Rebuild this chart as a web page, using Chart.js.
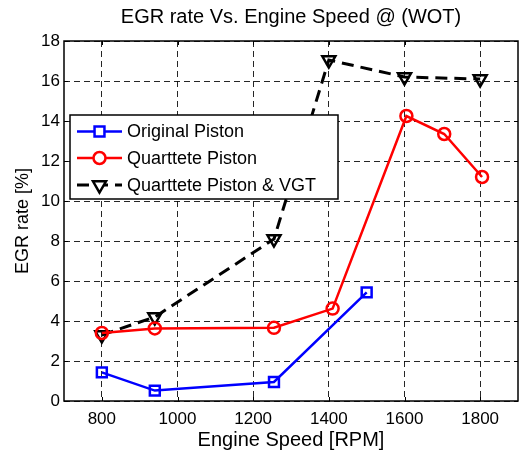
<!DOCTYPE html>
<html>
<head>
<meta charset="utf-8">
<script src="https://cdn.jsdelivr.net/npm/chart.js@4/dist/chart.umd.min.js"></script>
<style>
  html, body { margin: 0; padding: 0; background: #fff; }
  #wrap { width: 528px; height: 452px; }
</style>
</head>
<body>
<div id="wrap"><canvas id="egrChart" width="528" height="452"></canvas></div>
<script>
// データ
const originalRpm = [800, 940, 1255, 1500];
const originalEgr = [1.43, 0.52, 0.95, 5.43];

const quarttetteRpm = [800, 940, 1255, 1410, 1605, 1705, 1805];
const quarttetteEgr = [3.4, 3.63, 3.66, 4.62, 14.25, 13.35, 11.2];

const vgtRpm = [800, 940, 1255, 1400, 1600, 1800];
const vgtEgr = [3.3, 4.2, 8.1, 17.05, 16.2, 16.1];

const xTicks = [800, 1000, 1200, 1400, 1600, 1800];
const yTicks = [0, 2, 4, 6, 8, 10, 12, 14, 16, 18];

const seriesNames = ['Original Piston', 'Quarttete Piston', 'Quarttete Piston & VGT'];

const toPoints = (xs, ys) => xs.map((x, i) => ({ x: x, y: ys[i] }));

const FONT = 'Liberation Sans, Arial, Helvetica, sans-serif';

// MATLAB風の枠・内向き目盛・凡例を描くプラグイン
const matlabFramePlugin = {
    id: 'matlabFrame',
    afterDraw: (chart) => {
        const { ctx, chartArea: { top, bottom, left, right } } = chart;
        const xs = chart.scales.x;
        const ys = chart.scales.y;
        ctx.save();
        ctx.strokeStyle = '#000';
        ctx.lineWidth = 1.5;
        ctx.setLineDash([]);
        ctx.strokeRect(left, top, right - left, bottom - top);

        // 内向きの目盛
        ctx.lineWidth = 1;
        ctx.beginPath();
        xTicks.forEach(v => {
            const px = Math.round(xs.getPixelForValue(v)) + 0.5;
            ctx.moveTo(px, bottom); ctx.lineTo(px, bottom - 4);
            ctx.moveTo(px, top); ctx.lineTo(px, top + 4);
        });
        yTicks.forEach(v => {
            const py = Math.round(ys.getPixelForValue(v)) + 0.5;
            ctx.moveTo(left, py); ctx.lineTo(left + 4, py);
            ctx.moveTo(right, py); ctx.lineTo(right - 4, py);
        });
        ctx.stroke();

        // 凡例
        const box = { x: 70, y: 115, w: 268, h: 84 };
        ctx.fillStyle = '#fff';
        ctx.fillRect(box.x, box.y, box.w, box.h);
        ctx.lineWidth = 1.5;
        ctx.strokeRect(box.x, box.y, box.w, box.h);

        const rows = [131.5, 158, 185];
        chart.data.datasets.forEach((ds, i) => {
            const y = rows[i];
            ctx.save();
            ctx.strokeStyle = ds.borderColor;
            ctx.lineWidth = ds.borderWidth;
            ctx.setLineDash(ds.borderDash || []);
            ctx.beginPath();
            ctx.moveTo(77, y);
            ctx.lineTo(122, y);
            ctx.stroke();
            ctx.setLineDash([]);
            ctx.fillStyle = '#fff';
            ctx.strokeStyle = ds.pointBorderColor;
            ctx.lineWidth = ds.pointBorderWidth;
            Chart.helpers.drawPoint(ctx, {
                pointStyle: ds.pointStyle,
                rotation: ds.pointRotation || 0,
                radius: ds.pointRadius,
                borderWidth: ds.pointBorderWidth
            }, 99.5, y);
            ctx.restore();

            ctx.fillStyle = '#000';
            ctx.font = '18px ' + FONT;
            ctx.textBaseline = 'middle';
            ctx.textAlign = 'left';
            ctx.fillText(ds.label, 127, y + 1);
        });
        ctx.restore();
    }
};

const ctx = document.getElementById('egrChart').getContext('2d');

new Chart(ctx, {
    type: 'scatter',
    data: {
        datasets: [{
            label: seriesNames[0],
            data: toPoints(originalRpm, originalEgr),
            showLine: true,
            borderColor: '#0000ff',
            borderWidth: 2.5,
            pointStyle: 'rect',
            pointRadius: 7,
            pointBorderWidth: 2.5,
            pointBorderColor: '#0000ff',
            pointBackgroundColor: 'rgba(255,255,255,0)'
        }, {
            label: seriesNames[1],
            data: toPoints(quarttetteRpm, quarttetteEgr),
            showLine: true,
            borderColor: '#ff0000',
            borderWidth: 2.5,
            pointStyle: 'circle',
            pointRadius: 6,
            pointBorderWidth: 2.5,
            pointBorderColor: '#ff0000',
            pointBackgroundColor: 'rgba(255,255,255,0)'
        }, {
            label: seriesNames[2],
            data: toPoints(vgtRpm, vgtEgr),
            showLine: true,
            borderColor: '#000000',
            borderWidth: 3,
            borderDash: [12, 7],
            pointStyle: 'triangle',
            pointRotation: 180,
            pointRadius: 7.5,
            pointBorderWidth: 2.5,
            pointBorderColor: '#000000',
            pointBackgroundColor: 'rgba(255,255,255,0)'
        }]
    },
    options: {
        responsive: false,
        animation: false,
        layout: { padding: { left: 0, right: 7, top: 0, bottom: 0 } },
        plugins: {
            legend: { display: false },
            tooltip: { enabled: false },
            title: {
                display: true,
                fullSize: false,
                text: 'EGR rate Vs. Engine Speed @ (WOT)',
                color: '#000',
                font: { family: FONT, size: 20, weight: 'normal' },
                padding: { top: 5, bottom: 12 }
            }
        },
        scales: {
            x: {
                type: 'linear',
                min: 700,
                max: 1900,
                afterBuildTicks: (scale) => { scale.ticks = xTicks.map(v => ({ value: v })); },
                afterFit: (scale) => { scale.height = 51; },
                ticks: {
                    color: '#000',
                    font: { family: FONT, size: 17 },
                    padding: 8,
                    maxRotation: 0,
                    callback: (v) => String(v)
                },
                grid: { color: 'rgba(0,0,0,0.85)', lineWidth: 1, drawTicks: false },
                border: { display: false, dash: [6, 4] },
                title: {
                    display: true,
                    text: 'Engine Speed [RPM]',
                    color: '#000',
                    font: { family: FONT, size: 20 },
                    padding: { top: 0, bottom: 0 }
                }
            },
            y: {
                min: 0,
                max: 18,
                afterBuildTicks: (scale) => { scale.ticks = yTicks.map(v => ({ value: v })); },
                afterFit: (scale) => { scale.width = 64; },
                ticks: {
                    color: '#000',
                    font: { family: FONT, size: 17 },
                    padding: 4,
                    callback: (v) => String(v)
                },
                grid: { color: 'rgba(0,0,0,0.85)', lineWidth: 1, drawTicks: false },
                border: { display: false, dash: [6, 4] },
                title: {
                    display: true,
                    text: 'EGR rate [%]',
                    color: '#000',
                    font: { family: FONT, size: 18 },
                    padding: { top: 12, bottom: 0 }
                }
            }
        }
    },
    plugins: [matlabFramePlugin]
});
</script>
</body>
</html>
